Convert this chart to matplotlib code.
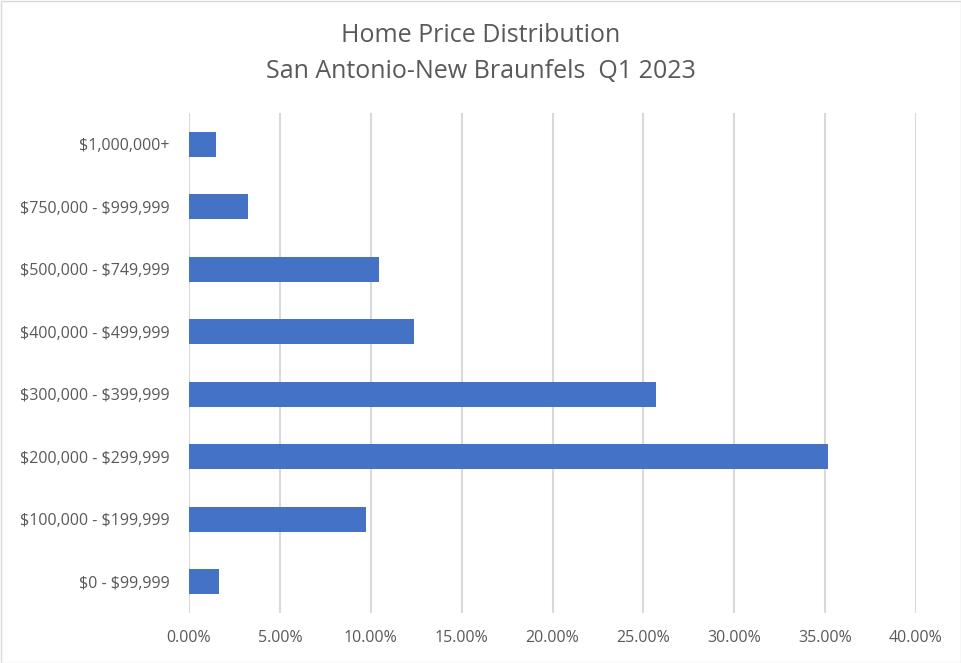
import matplotlib.pyplot as plt
from matplotlib.patches import Rectangle
from matplotlib.ticker import FuncFormatter

price_ranges = ["$0 - $99,999", "$100,000 - $199,999", "$200,000 - $299,999",
                "$300,000 - $399,999", "$400,000 - $499,999", "$500,000 - $749,999",
                "$750,000 - $999,999", "$1,000,000+"]
share_pct = [1.66, 9.76, 35.17, 25.68, 12.37, 10.48, 3.25, 1.48]
x_ticks = [0, 5, 10, 15, 20, 25, 30, 35, 40]

plt.rcParams['font.family'] = ['Open Sans', 'DejaVu Sans']
plt.rcParams['text.parse_math'] = False
text_gray = "#595959"

fig = plt.figure(figsize=(9.62, 6.63), dpi=100)
ax = fig.add_axes([189 / 962, 1 - 613 / 663, (916 - 189) / 962, 500 / 663])

ax.barh(range(len(price_ranges)), share_pct, height=0.4, color="#4472C4", zorder=3)

ax.set_xlim(0, 40)
ax.set_ylim(-0.5, len(price_ranges) - 0.5)
ax.set_xticks(x_ticks)
ax.xaxis.set_major_formatter(FuncFormatter(lambda v, p: f"{v:.2f}%"))
ax.set_yticks(range(len(price_ranges)))
ax.set_yticklabels(price_ranges)
ax.tick_params(length=0, labelsize=11.5, labelcolor=text_gray)
ax.tick_params(axis="x", pad=12)
ax.tick_params(axis="y", pad=14)
ax.grid(axis="x", color="#d9d9d9", linewidth=1.5, zorder=0)
for s in ax.spines.values():
    s.set_visible(False)

fig.text(0.5, 1 - 35 / 663, "Home Price Distribution", ha="center", va="center",
         fontsize=18, color=text_gray)
fig.text(0.5, 1 - 72 / 663, "San Antonio-New Braunfels  Q1 2023", ha="center", va="center",
         fontsize=18, color=text_gray)

fig.patches.append(Rectangle((0.5 / 962, 0.5 / 663), 1 - 1.5 / 962, 1 - 1.5 / 663,
                             transform=fig.transFigure, fill=False,
                             edgecolor="#d9d9d9", linewidth=1))

fig.savefig("out.png", dpi=100)
